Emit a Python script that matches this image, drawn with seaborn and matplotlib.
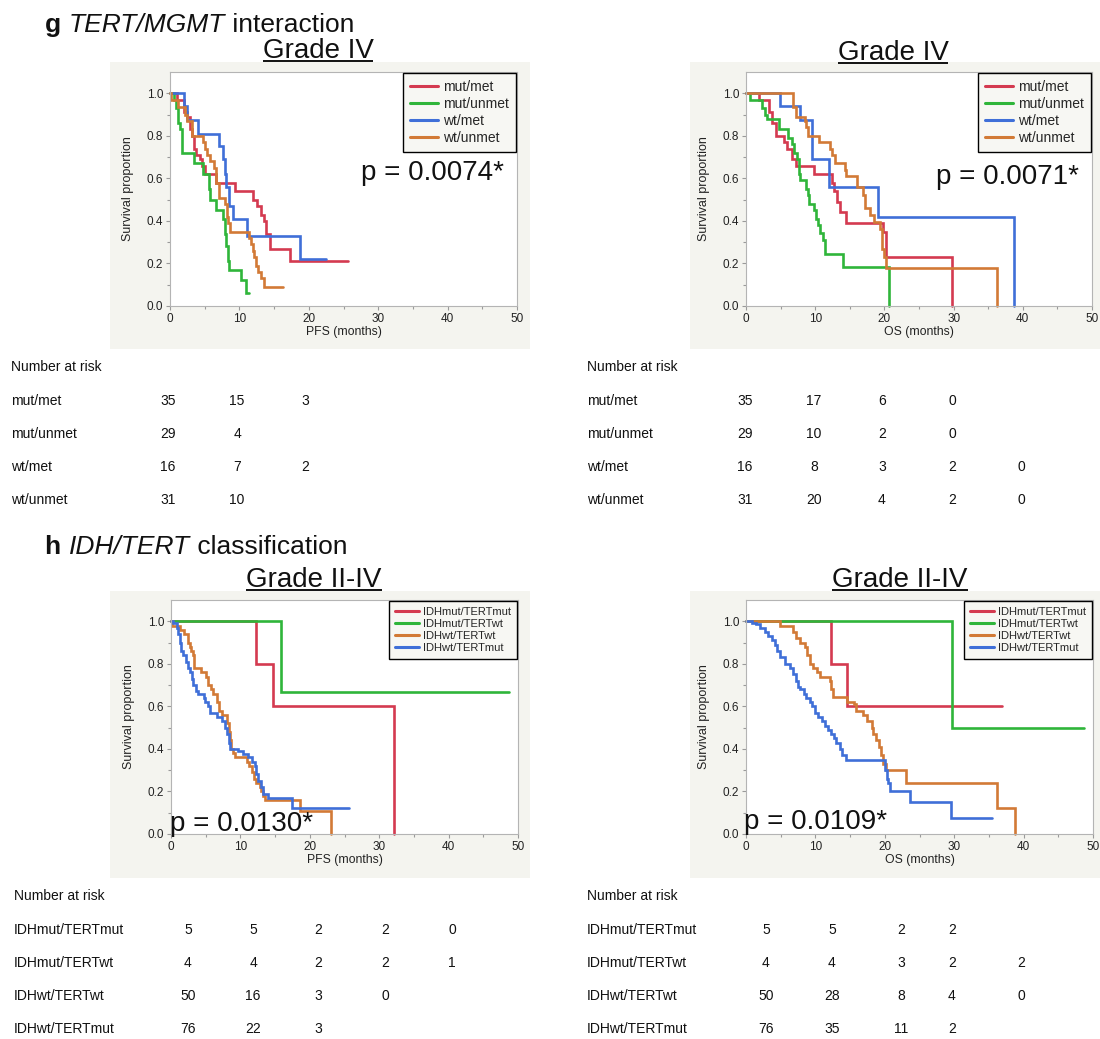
import pandas as pd
import seaborn as sns
import matplotlib.pyplot as plt
from matplotlib.lines import Line2D
from matplotlib.patches import Rectangle

# ---------------- data ----------------
tert_mgmt_groups = ['mut/met', 'mut/unmet', 'wt/met', 'wt/unmet']
idh_tert_groups = ['IDHmut/TERTmut', 'IDHmut/TERTwt', 'IDHwt/TERTwt', 'IDHwt/TERTmut']

red, green, blue, orange = '#d43a50', '#2fb53a', '#3f6fd8', '#d27a36'
tert_mgmt_colors = [red, green, blue, orange]
idh_tert_colors = [red, green, orange, blue]

# g: Grade IV, PFS (months, survival proportion) - Kaplan-Meier step points
g_pfs_mutmet_t = [0, 1.0, 2.0, 2.5, 2.9, 3.2, 3.5, 3.8, 4.3, 4.6, 5.0, 6.7, 9.3, 11.9, 12.6, 13.1, 13.5, 13.8, 14.4, 17.3, 25.7]
g_pfs_mutmet_s = [1.0, 0.97, 0.91, 0.89, 0.83, 0.80, 0.74, 0.71, 0.69, 0.66, 0.62, 0.58, 0.54, 0.50, 0.47, 0.43, 0.40, 0.34, 0.27, 0.21, 0.21]
g_pfs_mutunmet_t = [0, 0.6, 0.9, 1.2, 1.5, 1.8, 3.4, 4.8, 5.6, 5.8, 6.7, 7.7, 7.9, 8.1, 8.3, 8.5, 10.3, 11.0, 11.4]
g_pfs_mutunmet_s = [1.0, 0.97, 0.93, 0.86, 0.83, 0.72, 0.67, 0.62, 0.55, 0.50, 0.45, 0.41, 0.34, 0.28, 0.21, 0.17, 0.12, 0.06, 0.06]
g_pfs_wtmet_t = [0, 2.0, 2.5, 4.1, 7.1, 7.7, 7.9, 8.1, 8.5, 9.1, 11.1, 18.7, 22.5]
g_pfs_wtmet_s = [1.0, 0.94, 0.875, 0.81, 0.75, 0.69, 0.62, 0.56, 0.47, 0.41, 0.33, 0.22, 0.22]
g_pfs_wtunmet_t = [0, 0.1, 1.2, 2.1, 2.5, 3.1, 4.8, 5.0, 5.4, 5.7, 6.4, 6.6, 6.7, 7.0, 7.9, 8.2, 8.4, 8.7, 11.4, 11.6, 11.9, 12.1, 12.4, 12.7, 13.1, 13.6, 16.3]
g_pfs_wtunmet_s = [1.0, 0.97, 0.935, 0.90, 0.87, 0.80, 0.77, 0.74, 0.71, 0.68, 0.65, 0.61, 0.58, 0.51, 0.48, 0.42, 0.39, 0.35, 0.32, 0.29, 0.26, 0.23, 0.19, 0.16, 0.13, 0.09, 0.09]

# g: Grade IV, OS
g_os_mutmet_t = [0, 1.9, 3.3, 3.7, 4.3, 5.5, 5.9, 6.6, 7.2, 9.8, 12.4, 12.7, 13.1, 13.6, 14.4, 19.8, 20.2, 29.7]
g_os_mutmet_s = [1.0, 0.97, 0.91, 0.86, 0.80, 0.77, 0.74, 0.69, 0.66, 0.62, 0.58, 0.54, 0.49, 0.44, 0.39, 0.35, 0.23, 0.0]
g_os_mutunmet_t = [0, 0.6, 2.3, 2.7, 3.1, 4.7, 6.1, 6.6, 6.9, 7.3, 7.6, 7.8, 8.7, 8.9, 9.1, 9.8, 10.1, 10.4, 10.7, 11.1, 11.4, 14.0, 20.7]
g_os_mutunmet_s = [1.0, 0.97, 0.93, 0.90, 0.88, 0.83, 0.79, 0.76, 0.72, 0.69, 0.62, 0.59, 0.55, 0.52, 0.48, 0.45, 0.41, 0.38, 0.345, 0.31, 0.245, 0.185, 0.0]
g_os_wtmet_t = [0, 4.9, 7.8, 9.6, 12.0, 19.1, 38.7]
g_os_wtmet_s = [1.0, 0.94, 0.875, 0.69, 0.56, 0.42, 0.0]
g_os_wtunmet_t = [0, 6.8, 7.2, 8.5, 8.7, 8.9, 10.6, 12.1, 12.4, 12.8, 14.3, 14.5, 16.0, 16.9, 17.2, 17.9, 18.5, 19.4, 19.6, 19.9, 20.3, 36.2]
g_os_wtunmet_s = [1.0, 0.935, 0.89, 0.87, 0.84, 0.80, 0.77, 0.74, 0.71, 0.67, 0.64, 0.61, 0.56, 0.52, 0.46, 0.43, 0.395, 0.36, 0.27, 0.23, 0.18, 0.0]

# h: Grade II-IV, PFS
h_pfs_mm_t = [0, 12.2, 14.7, 32.1]
h_pfs_mm_s = [1.0, 0.8, 0.6, 0.0]
h_pfs_mw_t = [0, 15.8, 48.7]
h_pfs_mw_s = [1.0, 0.667, 0.667]
h_pfs_ww_t = [0, 0.1, 1.3, 1.9, 2.4, 2.7, 2.9, 3.1, 3.3, 4.3, 5.1, 5.3, 5.8, 6.0, 6.6, 6.9, 7.4, 8.0, 8.3, 8.5,
              8.7, 8.9, 9.2, 10.9, 11.3, 11.7, 11.9, 12.3, 12.8, 13.0, 13.3, 13.6, 18.6, 23.1]
h_pfs_ww_s = [1.0, 0.98, 0.96, 0.94, 0.90, 0.88, 0.86, 0.84, 0.78, 0.76, 0.74, 0.70, 0.68, 0.66, 0.62, 0.58, 0.56, 0.52, 0.48, 0.44,
              0.40, 0.38, 0.36, 0.34, 0.32, 0.29, 0.26, 0.24, 0.22, 0.20, 0.18, 0.16, 0.11, 0.0]
h_pfs_wm_t = [0, 0.3, 0.8, 1.0, 1.3, 1.5, 1.8, 2.2, 2.5, 2.7, 3.0, 3.2, 3.6, 3.9, 4.7, 4.9, 5.4, 5.6, 6.6, 7.3,
              7.8, 8.0, 8.3, 8.5, 9.7, 10.4, 11.1, 11.6, 12.1, 12.3, 12.6, 13.0, 13.3, 14.0, 17.4, 25.7]
h_pfs_wm_s = [1.0, 0.99, 0.97, 0.94, 0.90, 0.86, 0.84, 0.81, 0.78, 0.76, 0.73, 0.70, 0.67, 0.66, 0.64, 0.62, 0.60, 0.57, 0.55, 0.53,
              0.50, 0.47, 0.43, 0.40, 0.39, 0.375, 0.36, 0.34, 0.32, 0.28, 0.25, 0.22, 0.19, 0.17, 0.12, 0.12]

# h: Grade II-IV, OS
h_os_mm_t = [0, 12.3, 14.6, 36.9]
h_os_mm_s = [1.0, 0.8, 0.6, 0.6]
h_os_mw_t = [0, 29.7, 48.7]
h_os_mw_s = [1.0, 0.5, 0.5]
h_os_ww_t = [0, 4.9, 6.8, 7.2, 7.8, 8.5, 8.8, 9.2, 9.6, 10.2, 10.6, 12.1, 12.3, 12.6, 14.6, 15.5, 15.9, 16.9, 17.4, 18.1,
             18.3, 18.7, 19.1, 19.5, 19.8, 20.2, 23.1, 36.1, 38.7]
h_os_ww_s = [1.0, 0.98, 0.95, 0.92, 0.90, 0.88, 0.84, 0.80, 0.78, 0.76, 0.74, 0.72, 0.68, 0.645, 0.62, 0.61, 0.58, 0.56, 0.53, 0.50,
             0.47, 0.44, 0.41, 0.37, 0.33, 0.30, 0.24, 0.12, 0.0]
h_os_wm_t = [0, 0.8, 1.5, 2.0, 2.7, 3.2, 3.7, 4.2, 4.4, 4.9, 5.6, 6.3, 6.8, 7.2, 7.5, 7.8, 8.3, 8.7, 9.2, 9.5,
             9.9, 10.4, 10.9, 11.4, 11.8, 12.3, 12.7, 13.0, 13.5, 13.9, 14.4, 20.0, 20.3, 20.5, 20.7, 23.6, 29.6, 35.4]
h_os_wm_s = [1.0, 0.99, 0.985, 0.97, 0.95, 0.93, 0.91, 0.89, 0.86, 0.83, 0.80, 0.78, 0.75, 0.72, 0.69, 0.68, 0.66, 0.64, 0.62, 0.60,
             0.57, 0.55, 0.53, 0.51, 0.49, 0.47, 0.45, 0.43, 0.40, 0.37, 0.35, 0.30, 0.26, 0.24, 0.20, 0.15, 0.075, 0.075]

# number at risk tables
g_pfs_risk = [[35, 15, 3], [29, 4], [16, 7, 2], [31, 10]]
g_os_risk = [[35, 17, 6, 0], [29, 10, 2, 0], [16, 8, 3, 2, 0], [31, 20, 4, 2, 0]]
h_pfs_risk = [[5, 5, 2, 2, 0], [4, 4, 2, 2, 1], [50, 16, 3, 0], [76, 22, 3]]
h_os_risk = [[5, 5, 2, 2], [4, 4, 3, 2, 2], [50, 28, 8, 4, 0], [76, 35, 11, 2]]

p_values = ['p = 0.0074*', 'p = 0.0071*', 'p = 0.0130*', 'p = 0.0109*']

# ---------------- style / layout ----------------
sns.set_theme(style='white')
plt.rcParams['font.family'] = ['Liberation Sans', 'DejaVu Sans']

W, H = 1100, 1039
fig = plt.figure(figsize=(W / 100, H / 100), dpi=100)

# background axes in pixel coordinates (y down)
bg = fig.add_axes([0, 0, 1, 1], zorder=-1)
bg.set_xlim(0, W)
bg.set_ylim(H, 0)
bg.axis('off')

panel_gray = '#f4f4ef'
for x0, y0, x1, y1 in [(110, 62, 530, 349), (690, 62, 1100, 349), (110, 591, 530, 878), (690, 591, 1100, 878)]:
    bg.add_patch(Rectangle((x0, y0), x1 - x0, y1 - y0, facecolor=panel_gray, edgecolor='none'))


def px_axes(l, t, r, b):
    return fig.add_axes([l / W, 1 - b / H, (r - l) / W, (b - t) / H])


def km_frame(names, times, survs):
    parts = [pd.DataFrame({'time': t, 'surv': s, 'group': n}) for n, t, s in zip(names, times, survs)]
    return pd.concat(parts, ignore_index=True)


def km_panel(ax, df, groups, colors, xlabel, leg_size, leg_handle):
    sns.lineplot(data=df, x='time', y='surv', hue='group', hue_order=groups, palette=colors,
                 estimator=None, sort=False, drawstyle='steps-post', linewidth=1.9,
                 legend=False, ax=ax)
    for ln in ax.lines:
        ln.set_clip_on(False)
        ln.set_solid_joinstyle('miter')
    ax.set_facecolor('white')
    ax.set_xlim(0, 50)
    ax.set_ylim(0, 1.1)
    ax.set_xticks(range(0, 51, 10))
    ax.set_xticks(range(5, 50, 10), minor=True)
    ax.set_yticks([0, 0.2, 0.4, 0.6, 0.8, 1.0])
    ax.set_yticklabels(['0.0', '0.2', '0.4', '0.6', '0.8', '1.0'])
    ax.set_yticks([0.1, 0.3, 0.5, 0.7, 0.9], minor=True)
    ax.tick_params(which='both', direction='out', color='#9a9a9a', width=0.8,
                   labelsize=8.5, labelcolor='#222222', bottom=True, left=True)
    ax.tick_params(which='major', length=3, pad=2)
    ax.tick_params(which='minor', length=2)
    for sp in ax.spines.values():
        sp.set_color('#b4b4b4')
        sp.set_linewidth(0.8)
    ax.set_xlabel(xlabel, fontsize=8.8, labelpad=1, color='#222222')
    ax.set_ylabel('Survival proportion', fontsize=9, labelpad=9, color='#222222')
    handles = [Line2D([], [], color=c, lw=2.2) for c in colors]
    leg = ax.legend(handles, groups, loc='upper right', bbox_to_anchor=(1, 1), borderaxespad=0.1,
                    fontsize=leg_size, frameon=True, fancybox=False, edgecolor='black',
                    facecolor='#f7f7f3', framealpha=1, handlelength=leg_handle,
                    handletextpad=0.35, labelspacing=0.2, borderpad=0.5)
    leg.get_frame().set_linewidth(1.0)


ax_g_pfs = px_axes(170, 72, 517, 306)
ax_g_os = px_axes(746, 72, 1092, 306)
ax_h_pfs = px_axes(171, 600, 518, 834)
ax_h_os = px_axes(746, 600, 1093, 834)

km_panel(ax_g_pfs,
         km_frame(tert_mgmt_groups,
                  [g_pfs_mutmet_t, g_pfs_mutunmet_t, g_pfs_wtmet_t, g_pfs_wtunmet_t],
                  [g_pfs_mutmet_s, g_pfs_mutunmet_s, g_pfs_wtmet_s, g_pfs_wtunmet_s]),
         tert_mgmt_groups, tert_mgmt_colors, 'PFS (months)', 10, 2.0)
km_panel(ax_g_os,
         km_frame(tert_mgmt_groups,
                  [g_os_mutmet_t, g_os_mutunmet_t, g_os_wtmet_t, g_os_wtunmet_t],
                  [g_os_mutmet_s, g_os_mutunmet_s, g_os_wtmet_s, g_os_wtunmet_s]),
         tert_mgmt_groups, tert_mgmt_colors, 'OS (months)', 10, 2.0)
km_panel(ax_h_pfs,
         km_frame(idh_tert_groups,
                  [h_pfs_mm_t, h_pfs_mw_t, h_pfs_ww_t, h_pfs_wm_t],
                  [h_pfs_mm_s, h_pfs_mw_s, h_pfs_ww_s, h_pfs_wm_s]),
         idh_tert_groups, idh_tert_colors, 'PFS (months)', 8, 2.2)
km_panel(ax_h_os,
         km_frame(idh_tert_groups,
                  [h_os_mm_t, h_os_mw_t, h_os_ww_t, h_os_wm_t],
                  [h_os_mm_s, h_os_mw_s, h_os_ww_s, h_os_wm_s]),
         idh_tert_groups, idh_tert_colors, 'OS (months)', 8, 2.2)

# p values
for (x, y), p in zip([(432, 173), (1007, 177), (241, 824), (816, 822)], p_values):
    fig.text(x / W, 1 - y / H, p, fontsize=20, ha='center', va='center', color='#111111')

# section headers (bold letter, italic genes, plain rest)
for y, letter, genes, rest in [(32, 'g', 'TERT/MGMT', ' interaction'), (554, 'h', 'IDH/TERT', ' classification')]:
    t1 = bg.text(45, y, letter + ' ', fontsize=19, fontweight='bold', va='baseline', color='#111111')
    t2 = bg.annotate(genes, xy=(1, 0), xycoords=t1, va='bottom', fontsize=19, fontstyle='italic', color='#111111')
    bg.annotate(rest, xy=(1, 0), xycoords=t2, va='bottom', fontsize=19, color='#111111')

# underlined grade titles
grade_titles = []
for x, y, s in [(318, 58, 'Grade IV'), (893, 60, 'Grade IV'), (314, 587, 'Grade II-IV'), (900, 587, 'Grade II-IV')]:
    grade_titles.append((bg.text(x, y, s, fontsize=20, ha='center', va='baseline', color='#111111'), y))

fig.canvas.draw()
renderer = fig.canvas.get_renderer()
inv = bg.transData.inverted()
for t, y in grade_titles:
    bb = t.get_window_extent(renderer)
    x0 = inv.transform((bb.x0, bb.y0))[0]
    x1 = inv.transform((bb.x1, bb.y0))[0]
    bg.plot([x0, x1], [y + 3, y + 3], color='#111111', lw=1.4, solid_capstyle='butt')

# number-at-risk tables
tables = [
    (11, 367, [401, 434, 467, 500], [168, 237, 305], tert_mgmt_groups, g_pfs_risk),
    (587, 367, [401, 434, 467, 500], [745, 814, 882, 952, 1021], tert_mgmt_groups, g_os_risk),
    (14, 896, [930, 963, 996, 1029], [188, 253, 318, 385, 452], idh_tert_groups, h_pfs_risk),
    (587, 896, [930, 963, 996, 1029], [766, 832, 901, 952, 1021], idh_tert_groups, h_os_risk),
]
for lx, hy, rows, cols, names, risk in tables:
    bg.text(lx, hy, 'Number at risk', fontsize=10, va='center', color='#111111')
    for ry, name, counts in zip(rows, names, risk):
        bg.text(lx, ry, name, fontsize=10, va='center', color='#111111')
        for cx, n in zip(cols, counts):
            bg.text(cx, ry, str(n), fontsize=10, va='center', ha='center', color='#111111')

fig.savefig('out.png', dpi=100)
